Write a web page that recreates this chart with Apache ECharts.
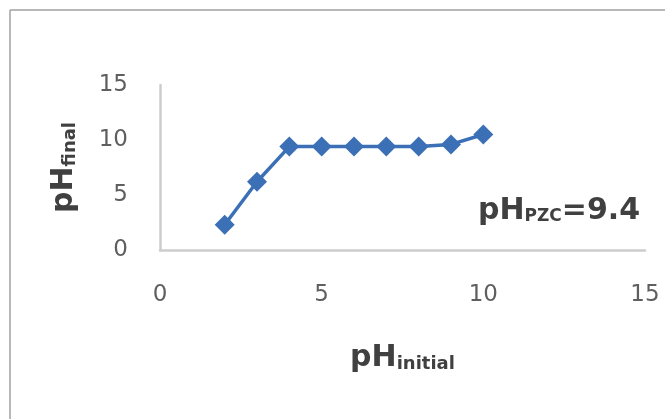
<!DOCTYPE html>
<html>
<head>
<meta charset="utf-8">
<script src="https://cdn.jsdelivr.net/npm/echarts@6/dist/echarts.min.js"></script>
<style>html,body{margin:0;padding:0;background:#fff}#c{width:665px;height:419px}</style>
</head>
<body>
<div id="c"></div>
<script>
var phInitial = [2, 3, 4, 5, 6, 7, 8, 9, 10];
var phFinal = [2.3, 6.2, 9.4, 9.4, 9.4, 9.4, 9.4, 9.6, 10.5];
var xTicks = [0, 5, 10, 15];
var yTicks = [0, 5, 10, 15];

var chart = echarts.init(document.getElementById('c'), null, {renderer: 'canvas'});
var FONT = '"DejaVu Sans", sans-serif';
var points = phInitial.map(function (x, i) { return [x, phFinal[i]]; });
var richMain = {fontSize: 30, fontWeight: 'bold', color: '#404040', fontFamily: FONT, lineHeight: 36};
var richSub = {fontSize: 18, fontWeight: 'bold', color: '#404040', fontFamily: FONT, lineHeight: 36, padding: [12, 0, 0, 0]};

chart.setOption({
  animation: false,
  backgroundColor: '#ffffff',
  grid: {left: 160, top: 85, right: 20, bottom: 169, containLabel: false},
  xAxis: {
    type: 'value', min: xTicks[0], max: xTicks[xTicks.length - 1], interval: 5,
    axisLine: {show: true, lineStyle: {color: '#cdcdcd', width: 2.5}},
    axisTick: {show: false}, splitLine: {show: false},
    axisLabel: {color: '#5f5f5f', fontSize: 23, fontFamily: FONT, margin: 34},
    name: '{a|pH}{b|initial}', nameLocation: 'middle', nameGap: 90,
    nameTextStyle: {rich: {a: richMain, b: richSub}}
  },
  yAxis: {
    type: 'value', min: yTicks[0], max: yTicks[yTicks.length - 1], interval: 5,
    axisLine: {show: true, lineStyle: {color: '#cdcdcd', width: 2.5}},
    axisTick: {show: false}, splitLine: {show: false},
    axisLabel: {color: '#5f5f5f', fontSize: 23, fontFamily: FONT, margin: 32, padding: [5, 0, 0, 0]},
    name: '{a|pH}{b|final}', nameLocation: 'middle', nameRotate: 90, nameGap: 78,
    nameTextStyle: {rich: {a: richMain, b: richSub}}
  },
  series: [{
    type: 'line',
    data: points,
    symbol: 'diamond',
    symbolSize: 20,
    lineStyle: {color: '#3b6fb6', width: 3.5},
    itemStyle: {color: '#3b6fb6'}
  }],
  graphic: [
    {type: 'line', shape: {x1: 10, y1: 10, x2: 665, y2: 10}, style: {stroke: '#a0a0a0', lineWidth: 1.5}},
    {type: 'line', shape: {x1: 10, y1: 10, x2: 10, y2: 419}, style: {stroke: '#a0a0a0', lineWidth: 1.5}},
    {
      type: 'text', left: 478, top: 196,
      style: {
        text: '{a|pH}{b|PZC}{a|=9.4}',
        rich: {
          a: {fontSize: 30, fontWeight: 'bold', fill: '#404040', fontFamily: FONT, lineHeight: 36},
          b: {fontSize: 17, fontWeight: 'bold', fill: '#404040', fontFamily: FONT, lineHeight: 36, padding: [12, 0, 0, 0]}
        }
      }
    }
  ]
});
</script>
</body>
</html>
